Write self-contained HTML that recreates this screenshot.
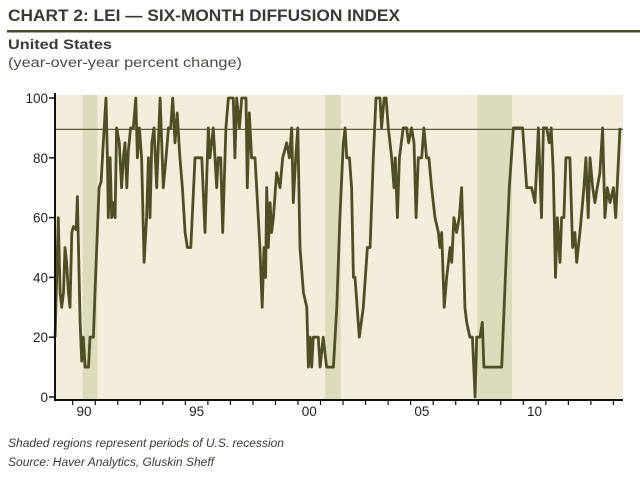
<!DOCTYPE html>
<html><head><meta charset="utf-8">
<style>
html,body{margin:0;padding:0;background:#fff;}
svg{display:block;font-family:"Liberation Sans",sans-serif;}
</style></head>
<body>
<svg id="chart" width="640" height="478" viewBox="0 0 640 478" xmlns="http://www.w3.org/2000/svg">
<text x="8" y="21" font-size="17" font-weight="bold" fill="#3b3b35" textLength="392" lengthAdjust="spacingAndGlyphs">CHART 2: LEI — SIX-MONTH DIFFUSION INDEX</text>
<rect x="7" y="30" width="633" height="2.5" fill="#4a4a30"/>
<text x="8" y="49" font-size="13.5" font-weight="bold" fill="#3b3b35" textLength="104" lengthAdjust="spacingAndGlyphs">United States</text>
<text x="8" y="67" font-size="13.5" fill="#4a4a45" textLength="234" lengthAdjust="spacingAndGlyphs">(year-over-year percent change)</text>
<g id="plot"></g>
<text x="8" y="447" font-size="11.5" font-style="italic" fill="#3b3b35" textLength="276" lengthAdjust="spacingAndGlyphs">Shaded regions represent periods of U.S. recession</text>
<text x="8" y="466" font-size="11.5" font-style="italic" fill="#3b3b35" textLength="206" lengthAdjust="spacingAndGlyphs">Source: Haver Analytics, Gluskin Sheff</text>
</svg>
<script>
const dates = [1989.22,1989.36,1989.44,1989.51,1989.59,1989.66,1989.73,1989.81,1989.88,1989.96,1990.03,1990.15,1990.21,1990.27,1990.33,1990.40,1990.47,1990.55,1990.70,1990.77,1990.92,1990.99,1991.09,1991.17,1991.26,1991.36,1991.48,1991.54,1991.58,1991.66,1991.73,1991.80,1991.88,1991.95,1992.07,1992.17,1992.25,1992.32,1992.40,1992.47,1992.57,1992.69,1992.80,1992.87,1992.96,1993.06,1993.17,1993.28,1993.36,1993.43,1993.51,1993.61,1993.73,1993.88,1994.02,1994.14,1994.25,1994.35,1994.44,1994.54,1994.64,1994.76,1994.87,1994.99,1995.09,1995.24,1995.43,1995.73,1995.87,1996.02,1996.09,1996.24,1996.39,1996.46,1996.57,1996.66,1996.80,1996.91,1997.13,1997.20,1997.28,1997.40,1997.50,1997.69,1997.75,1997.84,1997.94,1998.09,1998.24,1998.31,1998.41,1998.49,1998.56,1998.61,1998.68,1998.76,1998.83,1998.91,1999.05,1999.20,1999.32,1999.50,1999.62,1999.72,1999.79,1999.90,1999.99,2000.09,2000.24,2000.39,2000.46,2000.54,2000.61,2000.68,2000.90,2000.98,2001.12,2001.27,2001.57,2001.72,2001.86,2002.01,2002.09,2002.16,2002.28,2002.38,2002.46,2002.53,2002.72,2002.90,2003.08,2003.20,2003.34,2003.46,2003.64,2003.71,2003.82,2003.91,2004.01,2004.16,2004.26,2004.32,2004.41,2004.50,2004.67,2004.82,2004.91,2005.04,2005.15,2005.24,2005.34,2005.49,2005.59,2005.71,2005.81,2005.93,2006.08,2006.23,2006.30,2006.38,2006.49,2006.60,2006.75,2006.82,2006.92,2007.04,2007.16,2007.26,2007.34,2007.41,2007.49,2007.63,2007.74,2007.86,2007.93,2008.08,2008.18,2008.25,2009.04,2009.26,2009.38,2009.56,2009.97,2010.15,2010.37,2010.52,2010.67,2010.81,2010.89,2011.04,2011.15,2011.24,2011.33,2011.43,2011.51,2011.63,2011.70,2011.80,2011.89,2012.07,2012.19,2012.29,2012.37,2012.51,2012.63,2012.69,2012.78,2012.88,2012.96,2013.08,2013.18,2013.28,2013.40,2013.52,2013.62,2013.73,2013.85,2014.00,2014.10,2014.29];
const values = [20,60,35,30,35,50,45,35,30,55,57,56,67,45,25,12,20,10,10,20,20,35,55,70,72,85,100,80,60,80,60,65,60,90,85,70,80,85,70,82,90,90,100,80,90,80,45,60,80,60,85,90,70,100,70,80,90,90,100,85,95,80,70,55,50,50,80,80,55,90,80,90,70,80,80,55,90,100,100,80,100,90,100,100,70,95,80,80,60,50,30,50,40,70,50,65,55,60,75,70,80,85,80,90,65,80,90,50,35,30,10,20,10,20,20,10,20,10,10,30,60,85,90,80,80,70,40,40,20,30,50,50,80,100,100,90,100,100,90,80,70,80,60,80,90,90,85,90,85,60,80,80,90,80,80,70,60,55,50,55,30,40,50,45,60,55,60,70,50,30,25,20,20,0,20,20,25,10,10,50,70,90,90,70,70,65,90,60,90,90,85,90,75,40,60,45,60,60,80,80,50,55,45,55,65,70,80,60,80,70,65,70,75,90,60,70,65,70,60,90];
const recessionStarts = [1990.44, 2001.2, 2007.96];
const recessionEnds = [1991.1, 2001.9, 2009.5];
const yTicks = [0,20,40,60,80,100];
const xLabelYears = [1990,1995,2000,2005,2010];
const xLabelText = ["90","95","00","05","10"];
const refLevel = 89.5;

const NS = "http://www.w3.org/2000/svg";
const plot = document.getElementById('plot');
const L = 55, R = 623, T = 95, B = 400;
const x = yr => 72.7 + (yr - 1990) * 22.53;
const y = v => 397 - v * 2.99;
function mk(tag, attrs, parent) {
  const e = document.createElementNS(NS, tag);
  for (const k in attrs) e.setAttribute(k, attrs[k]);
  (parent || plot).appendChild(e);
  return e;
}
const bg = mk('rect', {x: L, y: T, width: R - L, height: B - T, fill: '#f3eedb'});


recessionStarts.forEach((s, i) => {
  const r = mk('rect', {x: x(s), y: T, width: x(recessionEnds[i]) - x(s), height: B - T, fill: '#dcdcbd'});
  
  
});
const ref = mk('line', {x1: L, x2: R, y1: y(refLevel), y2: y(refLevel), stroke: '#5a5a3a', 'stroke-width': 1.3});


const pts = dates.map((d, i) => x(d).toFixed(1) + ',' + y(values[i]).toFixed(1)).join(' ');
const line = mk('polyline', {points: pts, fill: 'none', stroke: '#4f4f25', 'stroke-width': 2.8, 'stroke-linejoin': 'round'});


const ya = mk('line', {x1: L, x2: L, y1: T - 2, y2: B + 1, stroke: '#111', 'stroke-width': 2});


const xa = mk('line', {x1: L - 1, x2: R, y1: B, y2: B, stroke: '#111', 'stroke-width': 2});


yTicks.forEach(v => {
  const t = mk('line', {x1: L - 6, x2: L, y1: y(v), y2: y(v), stroke: '#111', 'stroke-width': 1.5});
  
  
  const lb = mk('text', {x: L - 7, y: y(v) + 5, 'text-anchor': 'end', 'font-size': 13.5, fill: '#222'});
  lb.textContent = v;
  
  
});
for (let yr = 1990; yr <= 2014; yr++) {
  const t = mk('line', {x1: x(yr), x2: x(yr), y1: B, y2: B + 5, stroke: '#111', 'stroke-width': 1.2});
  
  
}
xLabelYears.forEach((yr, i) => {
  const lb = mk('text', {x: x(yr + 0.5), y: 416, 'text-anchor': 'middle', 'font-size': 13.5, fill: '#222'});
  lb.textContent = xLabelText[i];
  
  
});
</script>
</body></html>
